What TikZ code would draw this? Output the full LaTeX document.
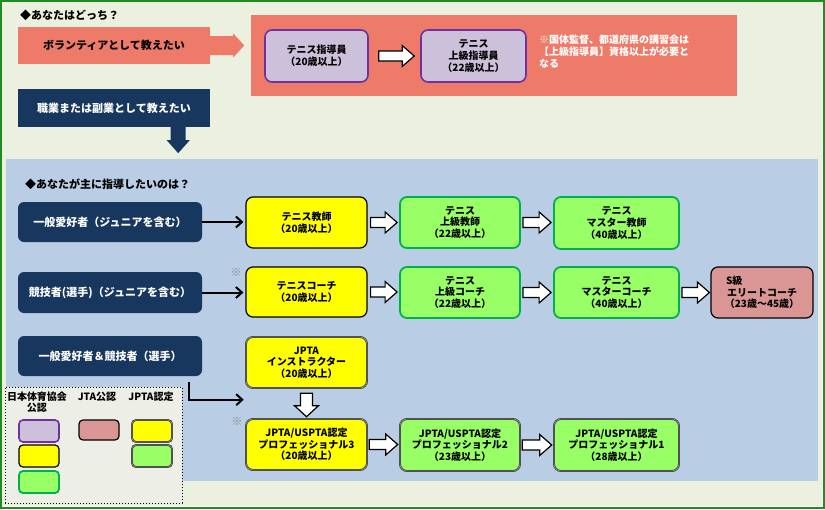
\documentclass[tikz,border=0pt]{standalone}
\usepackage{fontspec}
\setmainfont{Noto Sans CJK JP}
\usetikzlibrary{calc,arrows.meta}
\definecolor{bgc}{HTML}{EBF1DE}
\definecolor{legbg}{HTML}{EDEFE6}
\definecolor{panelblue}{HTML}{B9CDE5}
\definecolor{salmon}{HTML}{EE7B69}
\definecolor{navy}{HTML}{17375E}
\definecolor{lav}{HTML}{CCC0DA}
\definecolor{purp}{HTML}{7030A0}
\definecolor{yel}{HTML}{FFFF00}
\definecolor{lgreen}{HTML}{99FF66}
\definecolor{dgreen}{HTML}{00B050}
\definecolor{pinkc}{HTML}{DA9694}
\definecolor{framegreen}{HTML}{1E8C1E}
\newcommand{\rbox}[7]{\node[#1, minimum width={#5-(#3)}, minimum height={#6-(#4)}] (#2) at ({(#3+#5)/2},{(#4+#6)/2}) {#7};}
% horizontal block arrow from node #1 to node #2, gaps #3 and #4
\newcommand{\harr}[4]{\draw[barrow] let \p1=($(#1.east)+(#3pt,0)$), \p2=($(#2.west)+(-#4pt,0)$) in
  (\x1,\y1+5pt) -- (\x2-12pt,\y1+5pt) -- (\x2-12pt,\y1+10.5pt) -- (\x2,\y1) -- (\x2-12pt,\y1-10.5pt) -- (\x2-12pt,\y1-5pt) -- (\x1,\y1-5pt) -- cycle;}
% vertical block arrow
\newcommand{\varr}[4]{\draw[barrow] let \p1=($(#1.south)+(0,-#3pt)$), \p2=($(#2.north)+(0,#4pt)$) in
  (\x1-6pt,\y1) -- (\x1-6pt,\y2+11pt) -- (\x1-12pt,\y2+11pt) -- (\x1,\y2) -- (\x1+12pt,\y2+11pt) -- (\x1+6pt,\y2+11pt) -- (\x1+6pt,\y1) -- cycle;}
\begin{document}
\begin{tikzpicture}[x=1pt,y=-1pt,
  base/.style={rounded corners=7pt, align=center, inner sep=0pt, font=\fontsize{10}{11.7}\selectfont\bfseries, text=black},
  jsabox/.style={base, fill=lav, draw=purp, line width=1.6pt},
  yelbox/.style={base, fill=yel, draw=black, line width=1.2pt},
  grnbox/.style={base, fill=lgreen, draw=dgreen, line width=1.8pt},
  jtabox/.style={base, fill=pinkc, draw=black, line width=1.2pt},
  jptayel/.style={base, fill=yel, draw=black!80, double=black!45, double distance=0.7pt, line width=0.6pt},
  jptagrn/.style={base, fill=lgreen, draw=black!80, double=black!45, double distance=0.7pt, line width=0.6pt},
  navybox/.style={rounded corners=6pt, fill=navy, text=white, align=center, inner sep=0pt, font=\fontsize{11}{13}\selectfont\bfseries},
  careerbox/.style={fill=navy, text=white, align=center, inner sep=0pt, font=\fontsize{11}{13}\selectfont\bfseries},
  salbox/.style={fill=salmon, text=black, align=center, inner sep=0pt, font=\fontsize{11}{13}\selectfont\bfseries},
  legendframe/.style={draw=black, dotted, line width=1pt, fill=legbg, inner sep=0pt},
  barrow/.style={fill=white, draw=black, line width=1.2pt, line join=miter},
  linearrow/.style={draw=black, line width=2pt, -{Straight Barb[length=6pt,width=11pt]}, shorten >=2pt},
  heading/.style={font=\fontsize{11}{13}\selectfont\bfseries, anchor=west, inner sep=0pt},
  notetxt/.style={font=\fontsize{10}{12}\selectfont\bfseries, text=white, align=left, inner sep=0pt, anchor=north west},
  legtxt/.style={font=\fontsize{10}{11.5}\selectfont\bfseries, align=center, inner sep=0pt},
  refmark/.style={font=\fontsize{11}{12}\selectfont, text=black!45, inner sep=0pt}]
\useasboundingbox (0,0) rectangle (825,509);
% background and frame
\fill[bgc] (0,0) rectangle (825,509);
\draw[white, line width=0.8pt] (822,3) -- (822,506) -- (3,506);
\draw[framegreen, line width=2pt] (1,1) rectangle (824,508);
% panels
\fill[salmon] (251,15) rectangle (737,96);
\fill[panelblue] (6,159) rectangle (818,481);
% headings
\node[heading] (q1) at (20,15) {◆あなたはどっち？};
\node[heading] (q2) at (25,184) {◆あなたが主に指導したいのは？};
% top part
\rbox{salbox}{vol}{18}{27}{210}{64}{ボランティアとして教えたい}
\fill[salmon] let \p1=(vol.east) in (\x1-1pt,\y1+9.5pt) -- (\x1+23pt,\y1+9.5pt) -- (\x1+23pt,\y1+12pt) -- (\x1+34pt,\y1) -- (\x1+23pt,\y1-12pt) -- (\x1+23pt,\y1-9.5pt) -- (\x1-1pt,\y1-9.5pt) -- cycle;
\rbox{careerbox}{career}{18}{89}{210}{127}{職業または副業として教えたい}
\coordinate (dstart) at ($(career.south east)+(-32,0)$);
\fill[navy] let \p1=(dstart) in (\x1-7.5pt,\y1+1pt) -- (\x1-7.5pt,\y1-13pt) -- (\x1-11.5pt,\y1-13pt) -- (\x1,\y1-26pt) -- (\x1+11.5pt,\y1-13pt) -- (\x1+7.5pt,\y1-13pt) -- (\x1+7.5pt,\y1+1pt) -- cycle;
\rbox{jsabox}{inst}{265}{30}{368}{82}{テニス指導員\\（20歳以上）}
\rbox{jsabox}{instadv}{421}{30}{526}{82}{テニス\\上級指導員\\（22歳以上）}
\harr{inst}{instadv}{10}{6}
\node[notetxt] (note) at (539,35) {※国体監督、都道府県の講習会は\\【上級指導員】資格以上が必要と\\なる};
% left navy boxes
\rbox{navybox}{amateur}{18}{202}{202}{242}{一般愛好者（ジュニアを含む）}
\rbox{navybox}{comp}{18}{272}{202}{313}{競技者(選手)（ジュニアを含む）}
\rbox{navybox}{both}{18}{336}{202}{376}{一般愛好者＆競技者（選手）}
% row 1
\rbox{yelbox}{teacher}{246}{197}{367}{248}{テニス教師\\（20歳以上）}
\rbox{grnbox}{advteacher}{400}{197}{520}{248}{テニス\\上級教師\\（22歳以上）}
\rbox{grnbox}{mteacher}{554}{197}{679}{249}{テニス\\マスター教師\\（40歳以上）}
% row 2
\rbox{yelbox}{coach}{246}{267}{367}{317}{テニスコーチ\\（20歳以上）}
\rbox{grnbox}{advcoach}{400}{267}{520}{318}{テニス\\上級コーチ\\（22歳以上）}
\rbox{grnbox}{mcoach}{554}{267}{679}{318}{テニス\\マスターコーチ\\（40歳以上）}
\rbox{jtabox}{elite}{711}{267}{813}{318}{\makebox[72pt][l]{S級}\\エリートコーチ\\（23歳～45歳）}
% row 3
\rbox{jptayel}{jinst}{246}{337}{367}{388}{JPTA\\インストラクター\\（20歳以上）}
\rbox{jptayel}{pro3}{246}{419}{367}{470}{JPTA/USPTA認定\\プロフェッショナル3\\（20歳以上）}
\rbox{jptagrn}{pro2}{400}{419}{520}{471}{JPTA/USPTA認定\\プロフェッショナル2\\（23歳以上）}
\rbox{jptagrn}{pro1}{554}{419}{679}{471}{JPTA/USPTA認定\\プロフェッショナル1\\（28歳以上）}
% marks
\node[refmark] (m1) at (236,272) {※};
\node[refmark] (m2) at (237,421) {※};
% line arrows
\draw[linearrow] (amateur.east) -- (amateur.east -| teacher.west);
\draw[linearrow] (comp.east) -- (comp.east -| coach.west);
\coordinate (elbowstart) at ($(both.south east)+(-13,6)$);
\coordinate (elbowend) at ($(pro3.north west)+(0,-19)$);
\draw[linearrow] (elbowstart) |- (elbowend);
% block arrows
\harr{teacher}{advteacher}{3}{2}
\harr{advteacher}{mteacher}{2}{2}
\harr{coach}{advcoach}{3}{2}
\harr{advcoach}{mcoach}{2}{2}
\harr{mcoach}{elite}{2}{1}
\harr{pro3}{pro2}{2}{2}
\harr{pro2}{pro1}{2}{2}
\varr{jinst}{pro3}{5}{2}
% legend
\rbox{legendframe}{legend}{5}{387}{182}{503}{}
\node[legtxt] (l1) at (37,402) {日本体育協会\\公認};
\node[legtxt] (l2) at (97,397) {JTA公認};
\node[legtxt] (l3) at (151,397) {JPTA認定};
\rbox{jsabox, rounded corners=4pt}{s1}{19}{420}{59}{442}{}
\rbox{yelbox, rounded corners=4pt}{s2}{19}{445}{59}{467}{}
\rbox{grnbox, rounded corners=4pt}{s3}{19}{471}{59}{493}{}
\rbox{jtabox, rounded corners=4pt}{s4}{79}{420}{119}{440}{}
\rbox{jptayel, rounded corners=4pt}{s5}{132}{420}{172}{442}{}
\rbox{jptagrn, rounded corners=4pt}{s6}{132}{445}{172}{467}{}
\end{tikzpicture}
\end{document}
